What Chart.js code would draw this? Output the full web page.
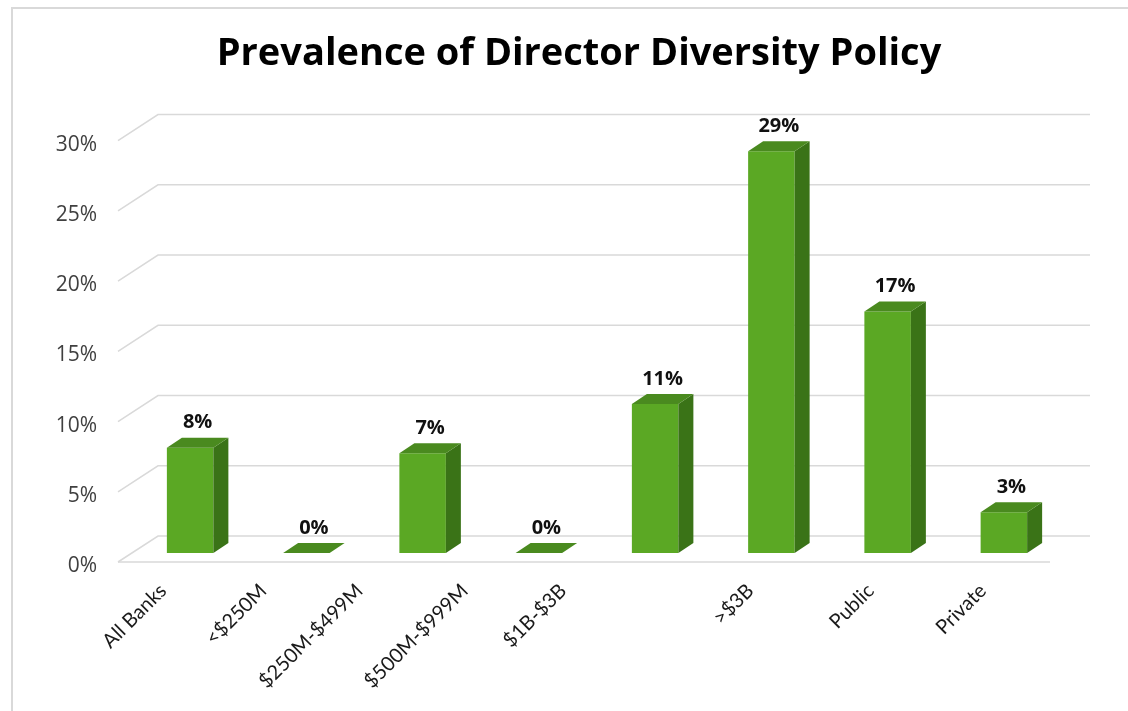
<!DOCTYPE html>
<html>
<head>
<meta charset="utf-8">
<title>Prevalence of Director Diversity Policy</title>
<script src="https://cdn.jsdelivr.net/npm/chart.js@4/dist/chart.umd.min.js"></script>
<style>
  html, body { margin: 0; padding: 0; background: #fff; }
  #wrap { width: 1128px; height: 711px; }
</style>
</head>
<body>
<div id="wrap"><canvas id="chart" width="1128" height="711"></canvas></div>
<script>
const categories = ['All Banks', '<$250M', '$250M-$499M', '$500M-$999M', '$1B-$3B', '>$3B', 'Public', 'Private'];
const policyShare = [7.5, 0, 7.1, 0, 10.6, 28.6, 17.2, 2.9];
const yTicks = [0, 5, 10, 15, 20, 25, 30];

// 3d look: depth of the wall behind the bars and of each bar
const wall = { frontDx: -14, frontDy: 9, backDx: 26, backDy: -17, right: 1090 };
const barDepth = { dx: 15, dy: -10 };
// the source spreads its slanted category labels unevenly
const labelShift = [4, -12, -32, -43, -61, 10, 14, 10];

const frontColor = '#5ba824';
const sideColor = '#3a7317';
const topColor = '#4a8a1f';

const fake3d = {
  id: 'fake3d',
  beforeDraw(chart) {
    const ctx = chart.ctx;
    ctx.save();
    ctx.strokeStyle = '#d9d9d9';
    ctx.lineWidth = 2;
    ctx.beginPath();
    ctx.moveTo(12, 711);
    ctx.lineTo(12, 8);
    ctx.lineTo(1128, 8);
    ctx.stroke();
    ctx.restore();

    chart.scales.x.getLabelItems().forEach((item, i) => {
      item.options.translation[0] += labelShift[i] || 0;
    });
  },
  beforeDatasetsDraw(chart) {
    const { ctx, chartArea, scales } = chart;
    const left = chartArea.left;
    ctx.save();
    ctx.strokeStyle = '#d9d9d9';
    ctx.lineWidth = 1.5;
    yTicks.forEach(v => {
      const y = scales.y.getPixelForValue(v);
      ctx.beginPath();
      ctx.moveTo(left + wall.frontDx, y + wall.frontDy);
      ctx.lineTo(left + wall.backDx, y + wall.backDy);
      ctx.lineTo(wall.right, y + wall.backDy);
      ctx.stroke();
    });
    // front edge of the floor
    const y0 = scales.y.getPixelForValue(0);
    ctx.beginPath();
    ctx.moveTo(left + wall.frontDx, y0 + wall.frontDy);
    ctx.lineTo(wall.right - (wall.backDx - wall.frontDx), y0 + wall.frontDy);
    ctx.stroke();
    ctx.restore();
  },
  afterDatasetsDraw(chart) {
    const ctx = chart.ctx;
    const meta = chart.getDatasetMeta(0);
    ctx.save();
    meta.data.forEach((bar, i) => {
      const { x, y, base, width } = bar.getProps(['x', 'y', 'base', 'width'], true);
      const l = x - width / 2, r = x + width / 2;
      const { dx, dy } = barDepth;
      // side
      ctx.fillStyle = sideColor;
      ctx.beginPath();
      ctx.moveTo(r, y);
      ctx.lineTo(r + dx, y + dy);
      ctx.lineTo(r + dx, base + dy);
      ctx.lineTo(r, base);
      ctx.closePath();
      ctx.fill();
      // top
      ctx.fillStyle = topColor;
      ctx.beginPath();
      ctx.moveTo(l, y);
      ctx.lineTo(l + dx, y + dy);
      ctx.lineTo(r + dx, y + dy);
      ctx.lineTo(r, y);
      ctx.closePath();
      ctx.fill();
      // value label
      ctx.fillStyle = '#111';
      ctx.font = 'bold 20px "Open Sans"';
      ctx.textAlign = 'center';
      ctx.textBaseline = 'middle';
      ctx.fillText(Math.round(policyShare[i]) + '%', x + dx / 2, y + dy - 15);
    });
    ctx.restore();
  }
};

new Chart(document.getElementById('chart'), {
  type: 'bar',
  data: {
    labels: categories,
    datasets: [{
      data: policyShare,
      backgroundColor: frontColor,
      borderWidth: 0,
      barPercentage: 0.4,
      categoryPercentage: 1
    }]
  },
  options: {
    responsive: false,
    animation: false,
    layout: { padding: { left: 30, right: 0, top: 0, bottom: 0 } },
    plugins: {
      legend: { display: false },
      tooltip: { enabled: false },
      title: {
        display: true,
        text: 'Prevalence of Director Diversity Policy',
        color: '#000',
        font: { family: 'Open Sans', size: 38, weight: 'bold' },
        padding: { top: 31, bottom: 55 }
      }
    },
    scales: {
      x: {
        grid: { display: false },
        border: { display: false },
        ticks: {
          color: '#1a1a1a',
          font: { family: 'Lato', size: 20 },
          minRotation: 45,
          maxRotation: 45,
          labelOffset: -31,
          padding: 18
        },
        afterFit(scale) { scale.height = 711 - 553; }
      },
      y: {
        min: 0,
        max: 30,
        grid: { display: false },
        border: { display: false },
        ticks: {
          stepSize: 5,
          color: '#404040',
          font: { family: 'Open Sans', size: 21 },
          padding: 27,
          labelOffset: 13,
          callback: v => v + '%'
        },
        afterFit(scale) { scale.width = 102; }
      },
      // empty strip on the right, where the back wall runs past the bars
      yRight: {
        position: 'right',
        min: 0,
        max: 30,
        grid: { display: false },
        border: { display: false },
        ticks: { display: false },
        afterFit(scale) { scale.width = 66; }
      }
    }
  },
  plugins: [fake3d]
});
</script>
</body>
</html>
